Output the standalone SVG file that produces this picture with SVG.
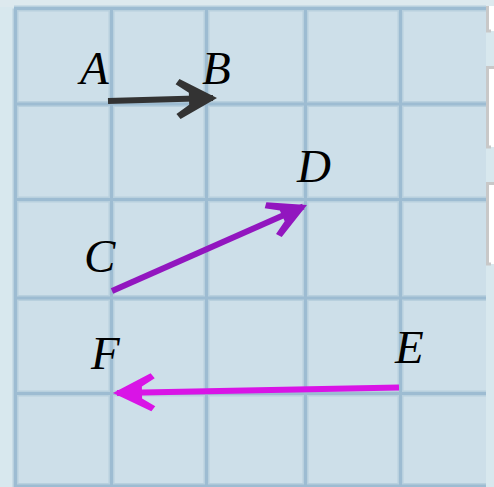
<svg xmlns="http://www.w3.org/2000/svg" width="494" height="487" viewBox="0 0 494 487">
<style>
.grid line{stroke:#9dbcd2;stroke-width:3}
.gridfr line{stroke:#b8d0de;stroke-width:6}
.lbl{font-family:"Liberation Serif","Times New Roman",serif;font-style:italic;font-size:47px;fill:#000}
</style>
<defs>
<marker id="hAB" markerUnits="userSpaceOnUse" markerWidth="60" markerHeight="60" refX="0" refY="0" orient="auto" overflow="visible" viewBox="-50 -30 60 60">
<path d="M4,0 L-33,-20 L-37,-15 L-24,-6 L-24,6 L-37,15 L-33,20 Z" fill="#333333"/>
</marker>
<marker id="hCD" markerUnits="userSpaceOnUse" markerWidth="60" markerHeight="60" refX="0" refY="0" orient="auto" overflow="visible" viewBox="-50 -30 60 60">
<path d="M4,0 L-32,-19 L-36,-14 L-23,-6 L-23,6 L-36,14 L-32,19 Z" fill="#9216bf"/>
</marker>
<marker id="hEF" markerUnits="userSpaceOnUse" markerWidth="60" markerHeight="60" refX="0" refY="0" orient="auto" overflow="visible" viewBox="-50 -30 60 60">
<path d="M4,0 L-34,-19 L-38,-14 L-25,-6 L-25,6 L-38,14 L-34,19 Z" fill="#d914e6"/>
</marker>
</defs>
<rect x="0" y="0" width="494" height="487" fill="#d8e8ee"/>
<rect x="0" y="0" width="494" height="7" fill="#dde9ee"/>
<rect x="15" y="8" width="471" height="479" fill="#cddfe9"/>
<g id="side-boxes">
<rect x="488" y="6" width="10" height="25" fill="#ffffff"/>
<path d="M487.5,6 V31 H491" fill="none" stroke="#c8c8c8" stroke-width="3"/>
<rect x="488" y="67" width="10" height="80" fill="#ffffff"/>
<path d="M494,67.5 H487.5 V147 H491" fill="none" stroke="#c8c8c8" stroke-width="3"/>
<rect x="488" y="183" width="10" height="81" fill="#ffffff"/>
<path d="M494,183.5 H487.5 V264 H491" fill="none" stroke="#c8c8c8" stroke-width="3"/>
</g>
<g id="grid">
<g class="gridfr">
<line x1="15.5" y1="8.5" x2="15.5" y2="487"/>
<line x1="111.5" y1="8.5" x2="111.5" y2="487"/>
<line x1="206.5" y1="8.5" x2="206.5" y2="487"/>
<line x1="305.5" y1="8.5" x2="305.5" y2="487"/>
<line x1="400.5" y1="8.5" x2="400.5" y2="487"/>
<line x1="14" y1="8.5" x2="486" y2="8.5"/>
<line x1="14" y1="104" x2="486" y2="104"/>
<line x1="14" y1="199.5" x2="486" y2="199.5"/>
<line x1="14" y1="298" x2="486" y2="298"/>
<line x1="14" y1="393.5" x2="486" y2="393.5"/>
<line x1="14" y1="486" x2="486" y2="486"/>
</g>
<g class="grid">
<line x1="15.5" y1="8.5" x2="15.5" y2="487"/>
<line x1="111.5" y1="8.5" x2="111.5" y2="487"/>
<line x1="206.5" y1="8.5" x2="206.5" y2="487"/>
<line x1="305.5" y1="8.5" x2="305.5" y2="487"/>
<line x1="400.5" y1="8.5" x2="400.5" y2="487"/>
<line x1="14" y1="8.5" x2="486" y2="8.5"/>
<line x1="14" y1="104" x2="486" y2="104"/>
<line x1="14" y1="199.5" x2="486" y2="199.5"/>
<line x1="14" y1="298" x2="486" y2="298"/>
<line x1="14" y1="393.5" x2="486" y2="393.5"/>
<line x1="14" y1="486" x2="486" y2="486"/>
</g>
</g>
<g id="connectors">
<line x1="108" y1="101" x2="213" y2="98.1" stroke="#333333" stroke-width="6" marker-end="url(#hAB)"/>
<line x1="112" y1="291" x2="303.3" y2="206.6" stroke="#9216bf" stroke-width="6" marker-end="url(#hCD)"/>
<line x1="399" y1="387.5" x2="117" y2="392.9" stroke="#d914e6" stroke-width="6" marker-end="url(#hEF)"/>
</g>
<g id="node-A"><text class="lbl" x="80" y="84">A</text></g>
<g id="node-B"><text class="lbl" x="202" y="84">B</text></g>
<g id="node-C"><text class="lbl" x="84" y="272">C</text></g>
<g id="node-D"><text class="lbl" x="297" y="182">D</text></g>
<g id="node-E"><text class="lbl" x="395" y="363">E</text></g>
<g id="node-F"><text class="lbl" x="91" y="369">F</text></g>
</svg>
